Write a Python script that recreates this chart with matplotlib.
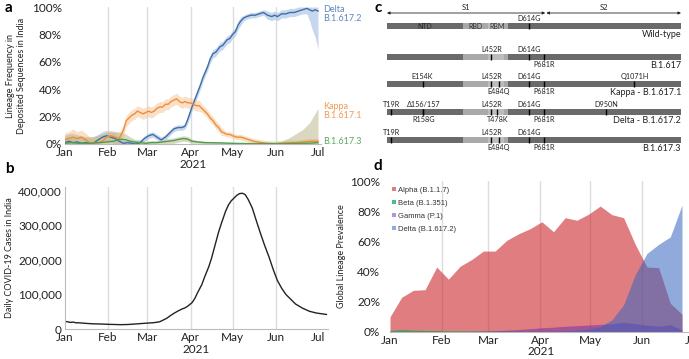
import numpy as np
import matplotlib
matplotlib.use('Agg')
import matplotlib.pyplot as plt
from matplotlib.lines import Line2D

plt.rcParams['font.family'] = ['Lato', 'DejaVu Sans']

#----------------------------------------------------------------
# Panel a - lineage frequency in India (days since Jan 1 2021, %)
delta_days = [0, 3, 6, 9, 12, 15, 18, 21, 24, 27, 30, 33, 36, 39, 42, 45, 48, 51, 54, 57,
              60, 63, 66, 69, 72, 75, 78, 81, 84, 86, 88, 91, 94, 97, 99, 102, 104, 106, 108, 111,
              113, 116, 118, 120, 122, 124, 126, 128, 130, 133, 136, 139, 142, 145, 148, 150, 152, 155, 158, 161,
              164, 167, 170, 173, 175, 177, 179, 181]
delta_vals = [1, 2, 1, 1.5, 0.5, 1, 0.5, 1, 3, 5, 6, 5, 4, 2, 0.5, 1, 0.5, 0, 1, 4,
              6, 7, 5, 3, 5, 8, 11, 12, 12, 13, 18, 27, 35, 43, 49, 56, 62, 66, 67, 71,
              72, 76, 77, 80, 82, 87, 90, 92, 93, 94, 94, 95, 96, 94, 93, 94, 93, 95, 95, 96,
              96, 97, 98, 99, 98, 97, 98, 97]
delta_err = [4, 4, 4, 4, 4, 4, 4, 4, 4, 4, 4, 4, 4, 3, 2, 2, 2, 2, 2, 2,
             2, 2, 2, 2, 2, 2, 2, 2, 2, 2, 3, 3, 3, 3, 3, 3, 3, 3, 3, 3,
             3, 3, 3, 3, 3, 3, 3, 2, 2, 2, 2, 2, 2, 3, 3, 3, 3, 3, 3, 3,
             3, 3, 3, 4, 8, 14, 20, 28]

kappa_days = [0, 3, 6, 9, 12, 15, 18, 21, 24, 27, 30, 33, 36, 39, 42, 44,
              46, 48, 50, 52, 54, 56, 58, 60, 62, 64, 66, 68, 70, 72, 74, 76, 78, 80, 82, 84,
              86, 88, 90, 92, 94, 96, 98, 100, 102, 104, 106, 108, 110, 112, 114, 116, 118, 120, 123,
              126, 129, 132, 135, 138, 141, 145, 150, 155, 160, 165, 170, 175, 179, 181]
kappa_vals = [3, 4, 5, 4, 5, 3, 1, 1, 1, 2, 5, 6, 5, 4, 10, 17,
              19, 21, 22, 24, 23, 22, 23, 24, 23, 24, 26, 27, 27, 29, 29, 31, 32, 33, 31, 30,
              31, 30, 30, 29, 28, 28, 26, 24, 22, 19, 17, 14, 12, 9, 8, 7, 7, 6, 5,
              5, 4, 3, 2, 1.5, 1, 0.5, 0.3, 0.5, 1, 1, 1.5, 2, 2, 2]
kappa_err = [5, 5, 6, 5, 5, 5, 4, 4, 4, 4, 4, 4, 4, 4, 4, 4,
             4, 4, 4, 4, 4, 4, 4, 4, 4, 4, 4, 4, 4, 4, 4, 4, 4, 4, 4, 4,
             4, 4, 4, 4, 4, 4, 3, 3, 3, 3, 3, 3, 3, 3, 2, 2, 2, 2, 2,
             2, 2, 2, 2, 2, 2, 2, 2, 2, 2, 2, 2, 2, 2, 2]

b3_days = [0, 5, 10, 15, 20, 25, 30, 35, 38, 41, 44, 47, 50, 54, 58, 62, 66, 70, 74, 78,
           82, 85, 88, 91, 95, 100, 110, 120, 130, 140, 150, 155, 160, 165, 170, 175, 178, 181]
b3_vals = [0.5, 1, 0.5, 0.5, 0.5, 1, 1.5, 2, 3, 3.5, 3, 2, 1.5, 1, 0.5, 1, 1, 1.5, 2, 2.5,
           3.5, 4, 3.5, 2, 1.5, 1, 0.8, 0.5, 0.3, 0.3, 0.3, 0.3, 0.3, 0.4, 0.5, 0.6, 0.8, 1]
b3_err = [6, 7, 6, 5, 5, 6, 7, 7, 6, 5, 4, 3, 2, 2, 1.5, 1.5, 1.5, 1.5, 2, 2,
          2, 2, 2, 1.5, 1, 1, 1, 0.5, 0.5, 0.5, 0.5, 2, 4, 7, 10, 15, 20, 25]

#----------------------------------------------------------------
# Panel b - daily cases (7-day average)
cases_days = [0, 2, 4, 6, 8, 10, 13, 16, 20, 25, 31, 36, 40, 45, 49, 54, 59, 63, 66, 68,
              70, 73, 75, 78, 81, 84, 86, 88, 91, 93, 95, 98, 100, 103, 105, 108, 110, 112, 115, 117,
              119, 121, 123, 125, 127, 129, 131, 134, 137, 140, 143, 146, 149, 152, 155, 158, 161, 165, 170, 175,
              180, 187]
cases_vals = [22, 21, 19, 20, 18, 18, 17, 16, 15, 14.5, 13.5, 13, 12.5, 13, 14, 15.5, 17, 18, 19.5, 21,
              25, 31, 37, 45, 52, 58, 61, 66, 76, 88, 105, 128, 150, 180, 205, 250, 280, 305, 340, 358,
              370, 378, 386, 391, 392, 388, 375, 350, 312, 275, 240, 208, 172, 140, 118, 100, 88, 72, 60, 51,
              46, 42]
cases_vals = [v * 1000 for v in cases_vals]

#----------------------------------------------------------------
# Panel c - spike mutations (residue positions)
spike_len = 1273
domains = [(0, 330, '#6a6a6a'), (330, 437, '#a9a9a9'), (437, 508, '#bdbdbd'),
           (508, 525, '#a9a9a9'), (525, 1273, '#6a6a6a')]
variants = ['Wild-type', 'B.1.617', 'Kappa - B.1.617.1', 'Delta - B.1.617.2', 'B.1.617.3']
mutations = [
    [('D614G', 614, 'up')],
    [('L452R', 452, 'up'), ('D614G', 614, 'up'), ('P681R', 681, 'down')],
    [('E154K', 154, 'up'), ('L452R', 452, 'up'), ('E484Q', 484, 'down'), ('D614G', 614, 'up'),
     ('P681R', 681, 'down'), ('Q1071H', 1071, 'up')],
    [('T19R', 19, 'up'), ('\u0394156/157', 157, 'up'), ('R158G', 158, 'down'), ('L452R', 452, 'up'),
     ('T478K', 478, 'down'), ('D614G', 614, 'up'), ('P681R', 681, 'down'), ('D950N', 950, 'up')],
    [('T19R', 19, 'up'), ('L452R', 452, 'up'), ('E484Q', 484, 'down'), ('D614G', 614, 'up'),
     ('P681R', 681, 'down')],
]

#----------------------------------------------------------------
# Panel d - global lineage prevalence (weekly, %)
d_days = np.arange(0, 176, 7)
alpha_d = [10, 23, 27.6, 28, 43, 35, 43.5, 48, 53.6, 53.6, 60.7, 65, 68.4, 73, 66.4, 75.7, 74, 78,
           83.4, 77.7, 75.7, 58, 43, 42.6, 19, 11.7]
beta_d = [1, 1.5, 1.2, 1, 1, 0.8, 0.8, 0.7, 0.7, 0.8, 0.7, 0.6, 0.6, 0.5, 0.5, 0.5, 0.4, 0.4,
          0.4, 0.3, 0.3, 0.3, 0.3, 0.2, 0.2, 0.2]
gamma_d = [0, 0, 0, 0, 0.1, 0.2, 0.3, 0.4, 0.6, 0.8, 1.2, 1.6, 2.2, 2.8, 3.2, 3.8, 4.2, 4.6,
           5, 5.5, 6.5, 5.5, 4.5, 3.8, 4.8, 1.5]
delta_d = [0, 0, 0, 0, 0, 0, 0, 0, 0, 0, 0, 0, 0, 0.2, 0.5, 0.8, 1.2, 2, 3.5, 8, 18, 38, 52, 58, 63, 84]

month_days = [0, 31, 59, 90, 120, 151, 181]
month_names = ['Jan', 'Feb', 'Mar', 'Apr', 'May', 'Jun', 'Jul']

#----------------------------------------------------------------
W, H = 689, 359
fig = plt.figure(figsize=(W / 100, H / 100), dpi=100)


def px_axes(left, top, right, bottom):
    return fig.add_axes([left / W, 1 - bottom / H, (right - left) / W, (bottom - top) / H])


def px_text(x, y, s, **kw):
    fig.text(x / W, 1 - y / H, s, **kw)


def style_time_axis(ax, xmax):
    ax.set_xlim(0, xmax)
    ax.set_xticks(month_days)
    ax.set_xticklabels(month_names)
    for d in month_days[1:6]:
        ax.axvline(d, color='#dcdcdc', lw=1, zorder=0)
    ax.tick_params(length=0, labelsize=8.5, pad=2, colors='#222222')
    for s in ['top', 'right']:
        ax.spines[s].set_visible(False)
    ax.spines['bottom'].set_color('#bbbbbb')
    ax.spines['left'].set_color('#bbbbbb')
    ax.set_xlabel('2021', fontsize=8.5, labelpad=1, color='#222222')


# ---- a
ax1 = px_axes(64.6, 7, 320.8, 144)
style_time_axis(ax1, 183)
ax1.spines['left'].set_visible(False)
ax1.set_ylim(0, 100)
ax1.set_yticks([0, 20, 40, 60, 80, 100])
ax1.set_yticklabels(['0%', '20%', '40%', '60%', '80%', '100%'])

series = [(delta_days, delta_vals, delta_err, '#3f6ea8', '#a9c4e6', 0.65),
          (kappa_days, kappa_vals, kappa_err, '#f08c3a', '#f8c79c', 0.55),
          (b3_days, b3_vals, b3_err, '#4c9e4c', '#b9b386', 0.5)]
for days, vals, err, lc, bc, ba in series:
    v = np.array(vals)
    e = np.array(err)
    ax1.fill_between(days, np.clip(v - e, 0, 100), np.clip(v + e, 0, 100), color=bc, alpha=ba, lw=0)
for days, vals, err, lc, bc, ba in series:
    ax1.plot(days, vals, color=lc, lw=1.0)
ax1.set_ylabel('Lineage Frequency in\nDeposited Sequences in India', fontsize=6.5,
               labelpad=4, color='#222222', linespacing=1.3)

px_text(323, 5, 'Delta\nB.1.617.2', fontsize=6.5, color='#5f86bc', va='top', linespacing=0.95)
px_text(323, 102, 'Kappa\nB.1.617.1', fontsize=6.5, color='#ef9a55', va='top', linespacing=0.95)
px_text(323, 137, 'B.1.617.3', fontsize=6.5, color='#5fa65f', va='top')

# ---- b
ax2 = px_axes(64.6, 187, 327.8, 329)
style_time_axis(ax2, 188)
ax2.set_ylim(0, 410000)
ax2.set_yticks([0, 100000, 200000, 300000, 400000])
ax2.set_yticklabels(['0', '100,000', '200,000', '300,000', '400,000'])
ax2.plot(cases_days, cases_vals, color='#222222', lw=1.0)
ax2.set_ylabel('Daily COVID-19 Cases in India', fontsize=6.5, labelpad=3, color='#222222')

# ---- c
ax3 = px_axes(387, 0, 681, 150)
ax3.set_xlim(0, spike_len)
ax3.set_ylim(150, 0)
ax3.axis('off')
rows = [26.3, 56.7, 84, 112.3, 140]
bar_h = 6.2
for row, name, muts in zip(rows, variants, mutations):
    for start, end, col in domains:
        ax3.barh(row, end - start, left=start, height=bar_h, color=col, lw=0)
    for lab, pos, side in muts:
        ax3.vlines(pos, row - bar_h / 2, row + bar_h / 2, color='black', lw=1)
        if side == 'up':
            ax3.text(pos, row - bar_h / 2 - 1, lab, fontsize=5.2, ha='center', va='bottom', color='#222222')
        else:
            ax3.text(pos, row + bar_h / 2 + 0.8, lab, fontsize=5.2, ha='center', va='top', color='#222222')
    ax3.text(spike_len, row + bar_h / 2 + 0.8, name, fontsize=6.5, ha='right', va='top', color='#222222')

for lab, pos in [('NTD', 165), ('RBD', 385), ('RBM', 475)]:
    ax3.text(pos, rows[0], lab, fontsize=5, ha='center', va='center', color='#2a2a2a')

ax3.annotate('', xy=(0, 13), xytext=(685, 13),
             arrowprops=dict(arrowstyle='<|-|>', lw=0.6, color='#222222', mutation_scale=4,
                             shrinkA=0, shrinkB=0))
ax3.annotate('', xy=(690, 13), xytext=(spike_len, 13),
             arrowprops=dict(arrowstyle='<|-|>', lw=0.6, color='#222222', mutation_scale=4,
                             shrinkA=0, shrinkB=0))
ax3.text(342, 11, 'S1', fontsize=5.5, ha='center', va='bottom', color='#222222')
ax3.text(940, 11, 'S2', fontsize=5.5, ha='center', va='bottom', color='#222222')

# ---- d
ax4 = px_axes(390, 181, 692, 332)
style_time_axis(ax4, 181)
ax4.spines['left'].set_visible(False)
ax4.tick_params(axis='y', pad=7)
ax4.set_ylim(0, 100)
ax4.set_yticks([0, 20, 40, 60, 80, 100])
ax4.set_yticklabels(['0%', '20%', '40%', '60%', '80%', '100%'])
ax4.set_xlabel('2021', fontsize=8.5, labelpad=0, color='#222222')

d_series = [('Alpha (B.1.1.7)', alpha_d, '#cd2d32', 0.62),
            ('Beta (B.1.351)', beta_d, '#00a050', 0.7),
            ('Gamma (P.1)', gamma_d, '#6e28aa', 0.5),
            ('Delta (B.1.617.2)', delta_d, '#3564c0', 0.55)]
handles = []
for lab, vals, col, a in d_series:
    ax4.fill_between(d_days, 0, vals, color=col, alpha=a, lw=0)
    handles.append(Line2D([], [], marker='s', ls='', color=col, alpha=a, markersize=2.8,
                          markeredgewidth=0, label=lab))
ax4.legend(handles=handles, loc='upper left', bbox_to_anchor=(-0.01, 0.985), frameon=False,
           prop={'family': 'Liberation Sans', 'size': 5.5}, labelcolor='#333333',
           handletextpad=0.1, handlelength=1.0, labelspacing=0.75, borderaxespad=0)
ax4.set_ylabel('Global Lineage Prevalence', fontsize=6.5, labelpad=3, color='#222222')

# panel letters
for x, y, s in [(5, 1, 'a'), (5, 162, 'b'), (375, 1, 'c'), (374, 159, 'd')]:
    px_text(x, y, s, fontsize=11, fontweight='bold', va='top', color='black')

fig.savefig('out.png', dpi=100)
